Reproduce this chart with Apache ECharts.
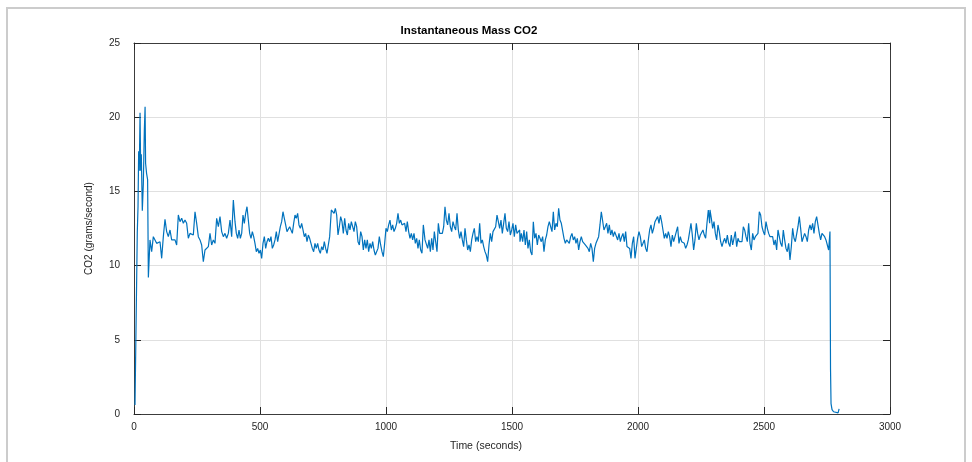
<!DOCTYPE html>
<html>
<head>
<meta charset="utf-8">
<title>Instantaneous Mass CO2</title>
<script src="https://cdn.jsdelivr.net/npm/echarts@6/dist/echarts.min.js"></script>
<style>
  html, body { margin: 0; padding: 0; background: #ffffff; }
  #chart { width: 972px; height: 462px; }
</style>
</head>
<body>
<div id="chart"></div>
<script>
// Start-up transient: time (s) and CO2 rate (g/s)
const startTimes = [4, 13, 16, 18.5, 21, 24, 26.5, 29, 33, 37, 41, 44, 46, 50, 54, 57,
  63.5, 70.1, 76.7, 83.3, 89.9, 96.6, 103.2, 109.8, 116.4, 123.0, 129.6, 136.2, 142.9, 149.5,
  156.1, 162.7, 169.3, 175.9, 182.5, 189.2, 195.8, 202.4, 209.0, 215.6, 222.2, 228.8, 235.4,
  242.1, 248.7, 255.3, 261.9, 268.5, 275.1, 281.7, 288.4, 295.0, 301.6, 308.2, 314.8, 321.4,
  328.0, 334.7, 341.3, 347.9, 354.5, 361.1, 367.7, 374.3, 381.0, 387.6, 394.2];
const startValues = [0.6, 12.2, 14.0, 17.7, 16.4, 20.3, 16.4, 17.5, 13.7, 15.5, 19.1, 20.7, 16.9, 16.2, 15.8, 9.2,
  11.73, 10.94, 11.95, 11.73, 11.50, 11.39, 11.61, 10.49, 11.95, 13.12, 12.29, 11.95, 12.40, 11.73,
  11.61, 11.73, 11.39, 13.41, 12.96, 13.19, 12.85, 13.07, 12.85, 11.84, 12.17, 12.29, 12.06,
  13.63, 12.85, 11.95, 11.73, 11.39, 10.26, 11.05, 10.94, 11.28, 12.17, 11.39, 11.73, 11.50,
  13.19, 12.62, 13.30, 12.29, 11.95, 12.17, 11.84, 12.17, 13.07, 11.95, 14.42];

// Steady running, logged at a fixed interval from each block's start time
const SAMPLE_STEP = 5.29;
const blockStarts = [400.8, 777.8, 1154.8, 1531.7, 1908.7, 2285.7];

const block1 = [12.96, 12.17, 11.84, 12.40, 11.84, 12.17, 13.41, 12.85, 13.52, 13.97,
  13.07, 12.17, 11.84, 12.29, 11.95, 11.50, 10.94, 11.16, 10.83, 11.05,
  10.49, 11.50, 11.95, 11.16, 11.61, 11.84, 11.61, 11.95, 11.16, 11.39,
  11.73, 12.29, 11.61, 11.73, 12.62, 12.96, 13.63, 13.19, 12.74, 12.29,
  12.17, 12.62, 12.74, 12.17, 12.85, 13.41, 13.19, 13.52, 12.74, 12.51,
  12.85, 12.40, 11.95, 12.17, 11.61, 12.06, 11.84, 11.50, 11.16, 10.94,
  11.50, 11.16, 11.50, 11.05, 10.83, 11.28, 11.05, 11.61, 11.16, 10.83,
  11.39, 11.95];

const block2 = [11.95, 13.75, 13.86, 13.52, 13.86, 13.41, 12.06, 12.62, 13.30, 12.96,
  12.17, 13.19, 12.40, 12.06, 12.85, 12.40, 12.96, 12.85, 12.29, 12.96,
  12.62, 11.61, 11.39, 12.29, 11.95, 11.05, 11.73, 11.16, 11.73, 10.94,
  11.50, 11.16, 11.61, 11.05, 10.71, 10.60, 11.16, 11.95, 11.39, 10.94,
  10.60, 11.50, 12.51, 12.29, 12.74, 13.07, 12.40, 12.74, 12.29, 12.51,
  12.85, 13.52, 12.85, 13.07, 12.74, 12.62, 12.85, 12.29, 12.96, 12.29,
  11.84, 12.17, 11.73, 12.17, 11.50, 11.84, 11.16, 11.73, 11.05, 10.83,
  12.74, 11.95];

const block3 = [11.73, 11.84, 11.16, 11.73, 10.94, 11.84, 11.05, 12.29, 11.61, 10.94,
  12.85, 12.17, 12.29, 12.17, 12.62, 13.97, 13.07, 12.74, 13.52, 12.62,
  12.29, 12.96, 12.62, 12.40, 13.52, 12.40, 11.84, 12.29, 11.73, 11.28,
  12.51, 11.73, 11.05, 11.39, 10.94, 11.73, 12.17, 12.51, 11.61, 11.95,
  11.61, 12.85, 11.50, 11.73, 11.28, 10.94, 10.71, 10.26, 11.39, 12.17,
  11.61, 12.29, 12.40, 12.62, 13.41, 12.96, 12.51, 13.07, 12.17, 12.85,
  13.52, 12.51, 12.29, 12.96, 12.06, 12.40, 12.85, 11.95, 12.74, 12.17,
  12.17, 12.40];

const block4 = [11.61, 12.17, 11.61, 12.40, 11.39, 12.29, 11.16, 11.73, 10.94, 10.71,
  12.96, 11.84, 12.17, 11.39, 12.06, 11.84, 11.61, 11.95, 10.94, 11.73,
  12.06, 12.62, 12.96, 12.62, 12.29, 13.63, 12.40, 12.85, 12.62, 13.86,
  13.07, 12.85, 12.96, 11.84, 11.50, 11.73, 11.61, 11.50, 11.95, 12.17,
  11.73, 11.95, 11.50, 11.84, 11.05, 11.61, 11.95, 11.61, 11.73, 11.39,
  11.50, 11.16, 10.94, 11.50, 11.16, 10.26, 11.16, 11.50, 11.61, 11.95,
  12.74, 13.63, 13.52, 12.40, 12.62, 12.85, 12.17, 12.74, 12.06, 12.40,
  11.95, 12.29];

const block5 = [12.40, 12.17, 11.73, 12.17, 11.61, 11.95, 12.17, 11.61, 12.29, 11.28,
  11.39, 11.16, 10.49, 11.50, 11.95, 10.49, 11.16, 11.84, 12.29, 11.95,
  11.28, 11.50, 11.73, 11.16, 10.94, 11.73, 12.40, 12.74, 12.17, 12.51,
  12.96, 13.07, 13.30, 12.85, 13.41, 12.96, 12.40, 11.84, 12.17, 11.84,
  12.29, 11.95, 11.28, 12.06, 11.61, 11.95, 11.84, 12.62, 11.50, 11.95,
  11.61, 11.73, 11.50, 11.16, 11.39, 11.73, 11.61, 12.85, 12.06, 11.05,
  11.73, 12.85, 12.17, 11.73, 12.06, 12.17, 12.40, 12.06, 11.84, 12.85,
  13.75, 12.85];

const block6 = [13.75, 13.19, 12.51, 12.96, 12.17, 11.73, 12.74, 12.29, 11.61, 11.28,
  11.61, 11.84, 11.50, 12.06, 11.50, 11.28, 12.06, 11.39, 11.84, 12.29,
  11.28, 11.84, 11.61, 11.73, 11.61, 12.62, 12.40, 11.95, 11.61, 12.85,
  11.50, 11.05, 12.17, 11.73, 11.95, 11.84, 12.17, 13.63, 13.41, 12.62,
  12.29, 12.06, 12.96, 12.51, 12.17, 11.95, 11.84, 11.95, 11.39, 11.73,
  11.05, 12.40, 11.95, 11.50, 11.28, 12.40, 11.73, 11.16, 10.94, 11.50,
  10.38, 11.28, 12.51, 11.84, 11.61, 11.73, 12.62, 13.30, 12.51, 11.61,
  11.50, 12.17, 11.95, 11.61, 12.40,
  12.74, 12.40, 12.85, 12.17, 12.96, 13.30, 13.41, 12.17, 11.73, 12.17,
  12.29, 11.95, 11.73, 11.73, 11.05, 12.29];

const runBlocks = [block1, block2, block3, block4, block5, block6];

// Engine shut-off
const tailTimes = [2764, 2766, 2770, 2776, 2794, 2798];
const tailValues = [3.0, 0.7, 0.3, 0.15, 0.08, 0.35];

// Axis ticks
const xTicks = { min: 0, max: 3000, step: 500 };
const yTicks = { min: 0, max: 25, step: 5 };

const points = [];
startTimes.forEach((t, i) => points.push([t, startValues[i]]));
runBlocks.forEach((block, k) => {
  block.forEach((v, i) => points.push([+(blockStarts[k] + i * SAMPLE_STEP).toFixed(1), v]));
});
tailTimes.forEach((t, i) => points.push([t, tailValues[i]]));

const INK = '#262626';
const FONT = '"Liberation Sans", Arial, Helvetica, sans-serif';

const chart = echarts.init(document.getElementById('chart'), null, { renderer: 'canvas' });

const boxAxisLine = { show: true, onZero: false, lineStyle: { color: '#3c3c3c', width: 1 } };
const boxTick = { show: true, inside: true, length: 7, lineStyle: { color: INK, width: 1 } };
const plainNumber = v => String(v);

chart.setOption({
  animation: false,
  backgroundColor: '#ffffff',
  textStyle: { fontFamily: FONT },
  title: {
    text: 'Instantaneous Mass CO2',
    left: 464,
    top: 20,
    textAlign: 'center',
    textStyle: { fontFamily: FONT, fontSize: 11.5, fontWeight: 'bold', color: '#000000' }
  },
  grid: { left: 134, right: 82, top: 43, bottom: 48, containLabel: false },
  graphic: [{
    type: 'rect',
    silent: true,
    shape: { x: 7, y: 8, width: 958, height: 480 },
    style: { fill: 'none', stroke: '#cccccc', lineWidth: 2 }
  }],
  xAxis: [{
    type: 'value',
    position: 'bottom',
    min: xTicks.min, max: xTicks.max, interval: xTicks.step,
    name: 'Time (seconds)',
    nameLocation: 'middle',
    nameGap: 27,
    nameTextStyle: { color: INK, fontSize: 10.5, fontFamily: FONT, padding: [0, 52, 0, 0] },
    axisLine: boxAxisLine,
    axisTick: boxTick,
    axisLabel: { color: INK, fontSize: 10, margin: 8, fontFamily: FONT, formatter: plainNumber },
    splitLine: { show: true, lineStyle: { color: '#e0e0e0', width: 1 } }
  }, {
    type: 'value',
    position: 'top',
    min: xTicks.min, max: xTicks.max, interval: xTicks.step,
    axisLine: boxAxisLine,
    axisTick: boxTick,
    axisLabel: { show: false },
    splitLine: { show: false }
  }],
  yAxis: [{
    type: 'value',
    position: 'left',
    min: yTicks.min, max: yTicks.max, interval: yTicks.step,
    name: 'CO2 (grams/second)',
    nameLocation: 'middle',
    nameGap: 40,
    nameTextStyle: { color: INK, fontSize: 10, fontFamily: FONT },
    axisLine: boxAxisLine,
    axisTick: boxTick,
    axisLabel: { color: INK, fontSize: 10, margin: 14, fontFamily: FONT, formatter: plainNumber },
    splitLine: { show: true, lineStyle: { color: '#e0e0e0', width: 1 } }
  }, {
    type: 'value',
    position: 'right',
    min: yTicks.min, max: yTicks.max, interval: yTicks.step,
    axisLine: boxAxisLine,
    axisTick: boxTick,
    axisLabel: { show: false },
    splitLine: { show: false }
  }],
  series: [{
    type: 'line',
    xAxisIndex: 0,
    yAxisIndex: 0,
    data: points,
    showSymbol: false,
    symbol: 'none',
    sampling: null,
    lineStyle: { color: '#0072BD', width: 1.2 },
    z: 5
  }]
});
</script>
</body>
</html>
